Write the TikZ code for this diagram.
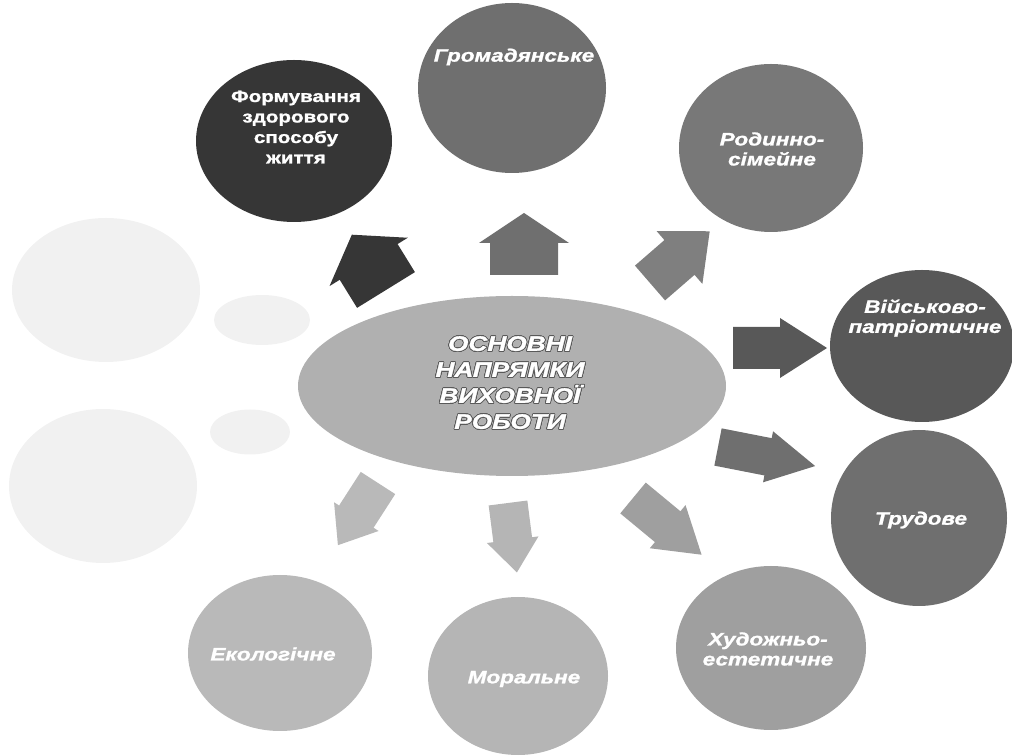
\documentclass[tikz,border=0pt]{standalone}
\usepackage{fontspec}
\setmainfont{Liberation Sans}
\newfontfamily\wideface[FakeStretch=1.25,FakeBold=1.3]{Liberation Sans}
\usepackage{contour}
\contourlength{0.8pt}
\usetikzlibrary{shapes.geometric}

\definecolor{formgray}{HTML}{363636}
\definecolor{hromgray}{HTML}{6F6F6F}
\definecolor{rodgray}{HTML}{787878}
\definecolor{viysgray}{HTML}{585858}
\definecolor{trudgray}{HTML}{6F6F6F}
\definecolor{khudgray}{HTML}{9F9F9F}
\definecolor{morgray}{HTML}{B5B5B5}
\definecolor{ekogray}{HTML}{B9B9B9}
\definecolor{hubgray}{HTML}{B0B0B0}
\definecolor{ghostgray}{HTML}{F1F1F1}

\tikzset{
  disc/.style={ellipse,fill=#1,inner sep=0pt},
  lbl/.style={text=white,font=\wideface\bfseries\itshape\fontsize{18}{20}\selectfont,align=center,inner sep=0pt},
  hubtext/.style={text=white,font=\wideface\bfseries\itshape\fontsize{21}{26}\selectfont,align=center,inner sep=0pt},
}

% block arrow: tail, angle, length, head length, head half width, shaft half width, colour
\newcommand\blockarr[7]{%
  \fill[#7,shift={#1},rotate=#2] (0,-#6) -- ({#3-#4},-#6) -- ({#3-#4},-#5) -- (#3,0)
    -- ({#3-#4},#5) -- ({#3-#4},#6) -- (0,#6) -- cycle;}

\begin{document}
\begin{tikzpicture}[x=1pt,y=1pt]
  \useasboundingbox (0,0) rectangle (1012,755);

  % faded shapes on the left
  \node[disc=ghostgray,minimum width=188pt,minimum height=144pt] (ghost1) at (106,465) {};
  \node[disc=ghostgray,minimum width=188pt,minimum height=154pt] (ghost2) at (103,269) {};
  \node[disc=ghostgray,minimum width=96pt,minimum height=50pt] (ghost3) at (262,435) {};
  \node[disc=ghostgray,minimum width=80pt,minimum height=45pt] (ghost4) at (250,323) {};

  % centre
  \node[disc=hubgray,minimum width=428pt,minimum height=180pt] (hub) at (512,369) {};
  \node[hubtext] (hub-t) at (510,372) {\contour{black!65}{ОСНОВНІ}\\
    \contour{black!65}{НАПРЯМКИ}\\ \contour{black!65}{ВИХОВНОЇ}\\ \contour{black!65}{РОБОТИ}};

  % directions
  \node[disc=formgray,minimum width=196pt,minimum height=162pt] (form) at (294,614) {};
  \node[lbl,font=\wideface\bfseries\fontsize{16.5}{20.5}\selectfont] (form-t) at (296,628)
    {Формування\\здорового\\способу\\життя};
  \node[disc=hromgray,minimum width=188pt,minimum height=170pt] (hrom) at (512,667) {};
  \node[lbl] (hrom-t) at (514,698) {Громадянське};
  \node[disc=rodgray,minimum width=184pt,minimum height=168pt] (rod) at (771,607) {};
  \node[lbl] (rod-t) at (772,606) {Родинно-\\сімейне};
  \node[disc=viysgray,minimum width=184pt,minimum height=152pt] (viys) at (922,409) {};
  \node[lbl] (viys-t) at (925,437) {Військово-\\патріотичне};
  \node[disc=trudgray,minimum width=176pt,minimum height=176pt] (trud) at (919,237) {};
  \node[lbl] (trud-t) at (921,235) {Трудове};
  \node[disc=khudgray,minimum width=190pt,minimum height=164pt] (khud) at (771,107) {};
  \node[lbl] (khud-t) at (768,106) {Художньо-\\естетичне};
  \node[disc=morgray,minimum width=180pt,minimum height=158pt] (mor) at (518,79) {};
  \node[lbl] (mor-t) at (524,76) {Моральне};
  \node[disc=ekogray,minimum width=184pt,minimum height=156pt] (eko) at (280,102) {};
  \node[lbl] (eko-t) at (273,101) {Екологічне};

  % arrows from the centre
  \blockarr{(386,465)}{121.7}{65}{32}{46}{34}{formgray}
  \blockarr{(524,480)}{90}{62}{30}{45}{34}{hromgray}
  \blockarr{(650,472)}{40.9}{79}{40}{35}{23}{rodgray!95!white}
  \blockarr{(733,407)}{0}{94}{47}{30}{21}{viysgray}
  \blockarr{(718,308)}{-11.1}{99}{48}{26}{19}{trudgray}
  \blockarr{(633,257)}{-39.6}{89}{44}{28}{20}{khudgray}
  \blockarr{(508,252)}{-82.7}{70}{33}{26}{19.5}{morgray}
  \blockarr{(378,272)}{237.2}{74}{34}{26.5}{20.5}{ekogray}
\end{tikzpicture}
\end{document}
